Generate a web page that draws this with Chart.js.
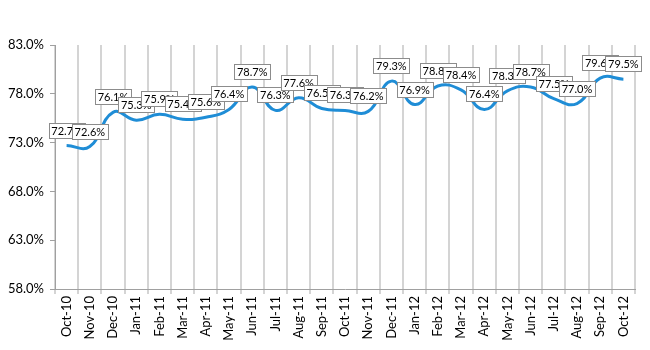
<!DOCTYPE html>
<html>
<head>
<meta charset="utf-8">
<script src="https://cdn.jsdelivr.net/npm/chart.js@4/dist/chart.umd.min.js"></script>
<style>
  html, body { margin: 0; padding: 0; background: #fff; }
  #wrap { width: 650px; height: 350px; }
</style>
</head>
<body>
<div id="wrap"><canvas id="rateChart" width="650" height="350"></canvas></div>
<script>
// Monthly values, Oct-10 .. Oct-12
const months = ['Oct-10', 'Nov-10', 'Dec-10', 'Jan-11', 'Feb-11', 'Mar-11', 'Apr-11', 'May-11',
    'Jun-11', 'Jul-11', 'Aug-11', 'Sep-11', 'Oct-11', 'Nov-11', 'Dec-11', 'Jan-12', 'Feb-12',
    'Mar-12', 'Apr-12', 'May-12', 'Jun-12', 'Jul-12', 'Aug-12', 'Sep-12', 'Oct-12'];
const rates = [72.7, 72.6, 76.1, 75.3, 75.9, 75.4, 75.6, 76.4, 78.7, 76.3, 77.6, 76.5, 76.3,
    76.2, 79.3, 76.9, 78.8, 78.4, 76.4, 78.3, 78.7, 77.5, 77.0, 79.6, 79.5];
const yTicks = [58, 63, 68, 73, 78, 83];

const fontFamily = 'Lato, "Open Sans", sans-serif';

// boxed value labels above each point
const boxLabels = {
    id: 'boxLabels',
    afterDatasetsDraw(chart) {
        const ctx = chart.ctx;
        const meta = chart.getDatasetMeta(0);
        ctx.save();
        ctx.font = '11px ' + fontFamily;
        ctx.textAlign = 'center';
        ctx.textBaseline = 'middle';
        meta.data.forEach((pt, i) => {
            const txt = rates[i].toFixed(1) + '%';
            const w = Math.round(ctx.measureText(txt).width) + 5;
            const h = 15;
            const x = Math.round(pt.x - w / 2) + 0.5;
            const y = Math.round(pt.y - 8 - h) + 0.5;
            ctx.fillStyle = '#fff';
            ctx.fillRect(x, y, w, h);
            ctx.strokeStyle = '#8c8c8c';
            ctx.lineWidth = 1;
            ctx.strokeRect(x, y, w, h);
            ctx.fillStyle = '#000';
            ctx.fillText(txt, pt.x, y + h / 2 + 0.5);
        });
        ctx.restore();
    }
};

const ctx = document.getElementById('rateChart').getContext('2d');
new Chart(ctx, {
    type: 'line',
    data: {
        labels: months,
        datasets: [{
            data: rates,
            borderColor: '#1f8dd6',
            borderWidth: 3,
            tension: 0.45,
            pointRadius: 0,
            fill: false
        }]
    },
    options: {
        responsive: false,
        animation: false,
        layout: { padding: { top: 45, right: 15, left: 0, bottom: 0 } },
        plugins: {
            legend: { display: false },
            tooltip: { enabled: false }
        },
        scales: {
            x: {
                offset: true,
                grid: { offset: true, color: '#d4d4d4', lineWidth: 2, tickLength: 5 },
                border: { color: '#a0a0a0', width: 1 },
                ticks: {
                    minRotation: 90, maxRotation: 90, autoSkip: false,
                    color: '#000', font: { family: fontFamily, size: 13 }, padding: 2
                },
                afterFit(scale) { scale.height = 61; }
            },
            y: {
                min: yTicks[0],
                max: yTicks[yTicks.length - 1],
                afterBuildTicks(scale) { scale.ticks = yTicks.map(v => ({ value: v })); },
                grid: { drawOnChartArea: false, tickLength: 5, color: '#a0a0a0' },
                border: { color: '#a0a0a0', width: 1 },
                ticks: {
                    color: '#000', font: { family: fontFamily, size: 13 }, padding: 6,
                    callback: v => v.toFixed(1) + '%'
                },
                afterFit(scale) { scale.width = 55; }
            }
        }
    },
    plugins: [boxLabels]
});
</script>
</body>
</html>
